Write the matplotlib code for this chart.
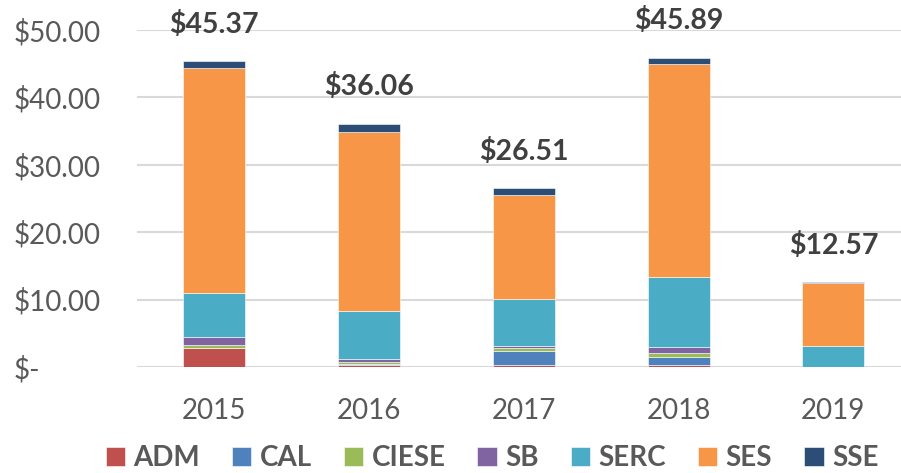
import numpy as np
import matplotlib
matplotlib.use("Agg")
import matplotlib.pyplot as plt

plt.rcParams['font.family'] = ['Lato', 'DejaVu Sans']

years = ['2015', '2016', '2017', '2018', '2019']
series = ['ADM', 'CAL', 'CIESE', 'SB', 'SERC', 'SES', 'SSE']
colors = ['#C0504D', '#4F81BD', '#9BBB59', '#8064A2', '#4BACC6', '#F79646', '#2C4D75']

adm = [2.87, 0.25, 0.25, 0.25, 0.0]
cal = [0.0, 0.25, 2.10, 1.20, 0.0]
ciese = [0.35, 0.30, 0.40, 0.60, 0.0]
sb = [1.28, 0.35, 0.30, 0.85, 0.0]
serc = [6.53, 7.10, 7.05, 10.50, 3.15]
ses = [33.40, 26.60, 15.40, 31.60, 9.30]
sse = [0.94, 1.21, 1.01, 0.89, 0.12]
totals = [45.37, 36.06, 26.51, 45.89, 12.57]

data = [adm, cal, ciese, sb, serc, ses, sse]

fig = plt.figure(figsize=(9.01, 4.73), dpi=100)
ax = fig.add_axes([137 / 901, 106 / 473, 773.75 / 901, 337 / 473])

x = np.arange(len(years))
bottom = np.zeros(len(years))
for name, vals, c in zip(series, data, colors):
    ax.bar(x, vals, width=0.4, bottom=bottom, color=c, label=name,
           edgecolor='white', linewidth=0.4, zorder=3)
    bottom += np.array(vals)

for xi, t in zip(x, totals):
    ax.text(xi, t + 5.5, f"${t:.2f}", ha='center', va='center',
            fontsize=20.5, fontweight='bold', color='#404040', clip_on=False)

ax.set_xlim(-0.5, 4.5)
ax.set_ylim(0, 50)
ax.set_yticks([0, 10, 20, 30, 40, 50])
ax.set_yticklabels(['$-', '$10.00', '$20.00', '$30.00', '$40.00', '$50.00'])
ax.set_xticks(x)
ax.set_xticklabels(years)
# accounting style: labels left aligned near the figure edge
ax.tick_params(axis='y', length=0, pad=89, labelsize=20, labelcolor='#595959')
ax.tick_params(axis='x', length=0, pad=22, labelsize=20, labelcolor='#595959')
for lab in ax.get_yticklabels():
    lab.set_horizontalalignment('left')

ax.grid(axis='y', color='#D9D9D9', linewidth=1.5, zorder=0)
for s in ax.spines.values():
    s.set_visible(False)

leg = fig.legend(loc='center', bbox_to_anchor=(492 / 901, 1 - 458 / 473), ncol=7,
                 frameon=False, handlelength=0.7, handleheight=0.7,
                 handletextpad=0.3, columnspacing=1.15,
                 prop={'size': 20, 'weight': 'bold'})
for t in leg.get_texts():
    t.set_color('#595959')

fig.savefig('out.png', dpi=100)
